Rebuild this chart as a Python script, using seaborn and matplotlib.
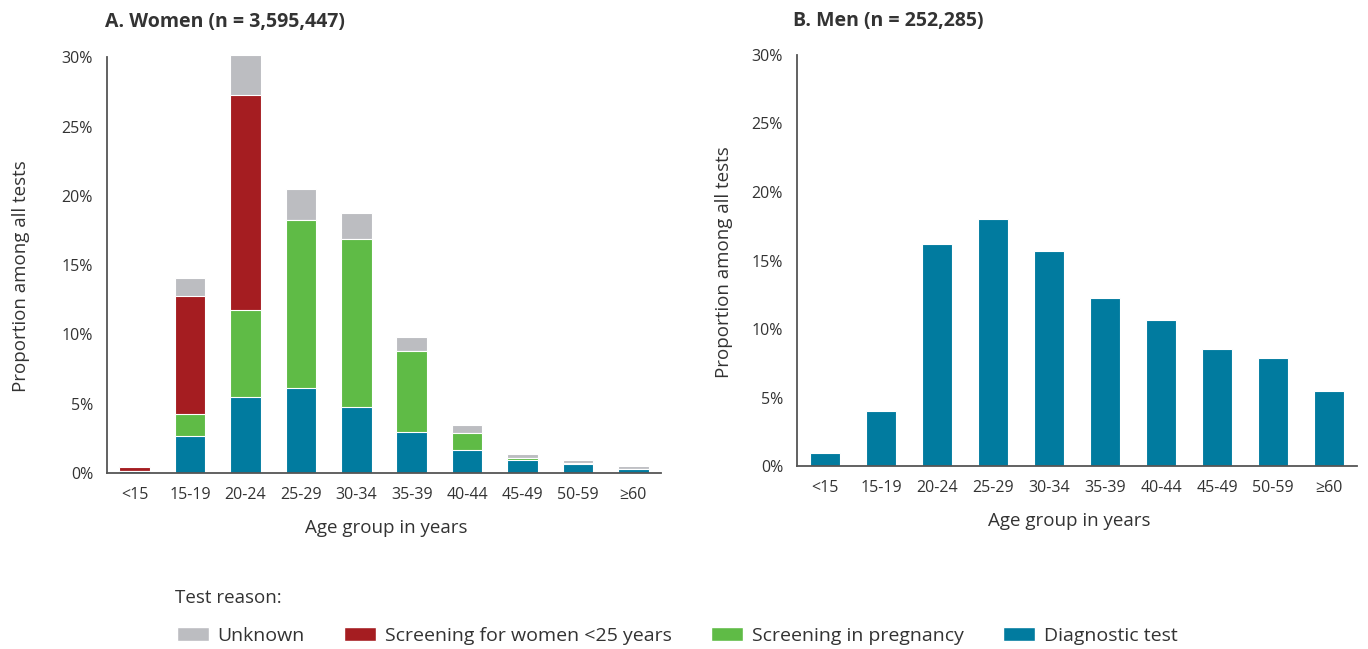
import matplotlib
matplotlib.use("Agg")
import matplotlib.pyplot as plt
from matplotlib.patches import Patch
import seaborn as sns
import pandas as pd
import numpy as np

# ---- data ----
age_groups = ["<15", "15-19", "20-24", "25-29", "30-34", "35-39", "40-44", "45-49", "50-59", "≥60"]
women_diagnostic = [0.18, 2.67, 5.46, 6.14, 4.73, 2.98, 1.67, 0.97, 0.68, 0.27]
women_pregnancy = [0.00, 1.60, 6.31, 12.11, 12.13, 5.82, 1.24, 0.08, 0.02, 0.00]
women_screen25 = [0.25, 8.53, 15.53, 0.00, 0.00, 0.00, 0.00, 0.00, 0.00, 0.00]
women_unknown = [0.10, 1.30, 2.87, 2.25, 1.89, 1.05, 0.56, 0.29, 0.27, 0.22]
men_diagnostic = [1.00, 4.05, 16.19, 18.06, 15.68, 12.26, 10.70, 8.52, 7.89, 5.49]
yticks = [0, 5, 10, 15, 20, 25, 30]
title_women = "A. Women (n = 3,595,447)"
title_men = "B. Men (n = 252,285)"
legend_labels = ["Unknown", "Screening for women <25 years", "Screening in pregnancy", "Diagnostic test"]

c_unknown = "#BCBDC1"
c_screen = "#A51D21"
c_preg = "#5FBB46"
c_diag = "#017B9F"
text_c = "#333333"
spine_c = "#555555"

sns.set_theme(style="white")
plt.rcParams["font.family"] = ["Open Sans", "DejaVu Sans"]
plt.rcParams["text.color"] = text_c
plt.rcParams["axes.labelcolor"] = text_c
plt.rcParams["xtick.color"] = text_c
plt.rcParams["ytick.color"] = text_c

fig = plt.figure(figsize=(13.68, 6.49), dpi=100)
axA = fig.add_axes([107/1368, 1-473/649, 554/1368, (473-57.3)/649])
axB = fig.add_axes([797/1368, 1-466.3/649, 560/1368, (466.3-54.8)/649])

dfw = pd.DataFrame({
    "age": age_groups,
    "diag": women_diagnostic,
    "preg": women_pregnancy,
    "scr": women_screen25,
    "unk": women_unknown,
})
dfw["c1"] = dfw["diag"]
dfw["c2"] = dfw["c1"] + dfw["preg"]
dfw["c3"] = dfw["c2"] + dfw["scr"]
dfw["c4"] = dfw["c3"] + dfw["unk"]

bar_kw = dict(width=0.55, edgecolor="white", linewidth=0.8, order=age_groups,
              clip_on=False, saturation=1)
for col, colr in [("c4", c_unknown), ("c3", c_screen), ("c2", c_preg), ("c1", c_diag)]:
    sns.barplot(data=dfw, x="age", y=col, color=colr, ax=axA, **bar_kw)

dfm = pd.DataFrame({"age": age_groups, "diag": men_diagnostic})
sns.barplot(data=dfm, x="age", y="diag", color=c_diag, ax=axB, **bar_kw)

for ax in (axA, axB):
    ax.set_xlim(-0.5, len(age_groups) - 0.5)
    ax.set_ylim(0, 30)
    ax.set_yticks(yticks)
    ax.set_yticklabels([f"{v}%" for v in yticks], fontsize=11.5)
    ax.set_xticks(range(len(age_groups)))
    ax.set_xticklabels(age_groups, fontsize=11.5)
    ax.set_xticks(np.arange(-0.5, len(age_groups), 1.0), minor=True)
    ax.tick_params(axis="x", which="major", length=0, pad=10)
    ax.tick_params(axis="x", which="minor", length=6, width=1.2, color=spine_c, direction="out")
    ax.tick_params(axis="y", which="major", length=4, width=1.2, color=spine_c, direction="out", pad=6)
    for s in ("top", "right"):
        ax.spines[s].set_visible(False)
    for s in ("left", "bottom"):
        ax.spines[s].set_color(spine_c)
        ax.spines[s].set_linewidth(1.3)
    ax.set_xlabel("Age group in years", fontsize=13.5)
    ax.set_ylabel("Proportion among all tests", fontsize=13.5)

axA.yaxis.set_label_coords(-0.139, 0.473)
axA.xaxis.set_label_coords(0.504, -0.111)
axB.yaxis.set_label_coords(-0.114, 0.495)
axB.xaxis.set_label_coords(0.486, -0.111)

fig.text(105/1368, 1-22/649, title_women, fontsize=14, fontweight="bold", va="center", ha="left")
fig.text(793/1368, 1-21/649, title_men, fontsize=14, fontweight="bold", va="center", ha="left")

fig.text(175/1368, 1-598/649, "Test reason:", fontsize=13.5, va="center", ha="left")
handles = [Patch(facecolor=c) for c in (c_unknown, c_screen, c_preg, c_diag)]
fig.legend(handles, legend_labels, loc="center left", bbox_to_anchor=(177/1368, 1-636/649),
           ncol=4, frameon=False, fontsize=14, handlelength=1.65, handleheight=0.72,
           handletextpad=0.42, columnspacing=2.05, borderaxespad=0, borderpad=0)

fig.savefig("out.png", dpi=100)
